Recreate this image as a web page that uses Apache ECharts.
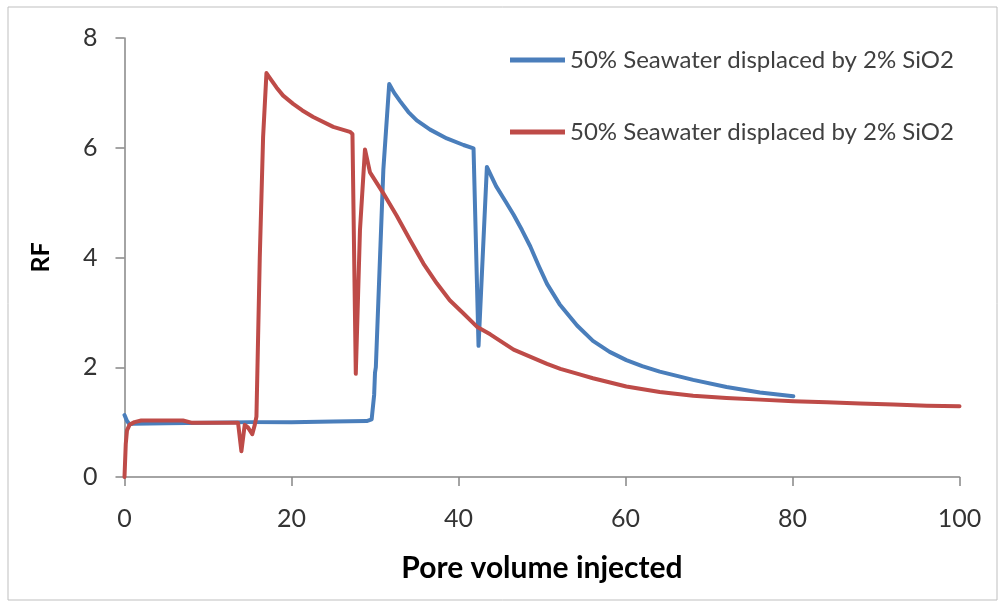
<!DOCTYPE html>
<html>
<head>
<meta charset="utf-8">
<script src="https://cdn.jsdelivr.net/npm/echarts@6/dist/echarts.min.js"></script>
<style>
  html, body { margin: 0; padding: 0; background: #fff; }
  #chart { width: 1000px; height: 603px; }
</style>
</head>
<body>
<div id="chart"></div>
<script>
// Resistance factor (RF) versus injected pore volume, two core floods
const seriesNames = [
  '50% Seawater displaced by 2% SiO2',
  '50% Seawater displaced by 2% SiO2'
];

// [pore volume injected, RF]
const blueRun = [
  [0, 1.13], [0.3, 1.02], [0.6, 0.96], [1, 0.97], [5, 0.98], [10, 0.99],
  [15, 1.0], [20, 1.0], [25, 1.01], [29, 1.02], [29.6, 1.05], [29.9, 1.5],
  [30.0, 1.9], [30.1, 2.0], [31.0, 5.6], [31.7, 7.16], [32.3, 7.0],
  [33.0, 6.85], [34.0, 6.65], [35.0, 6.5], [36.6, 6.33], [38.6, 6.17],
  [40.6, 6.05], [41.8, 5.99], [42.4, 2.39], [43.4, 5.65], [44.5, 5.3],
  [45.6, 5.03], [46.6, 4.78], [47.6, 4.5], [48.6, 4.2], [49.6, 3.85],
  [50.6, 3.52], [52.1, 3.15], [54.2, 2.76], [56.1, 2.48], [58.1, 2.28],
  [60.1, 2.13], [62, 2.02], [64.1, 1.92], [68.1, 1.77], [72.1, 1.64],
  [76.1, 1.54], [80.1, 1.47]
];

const redRun = [
  [0, 0], [0.15, 0.6], [0.3, 0.85], [0.6, 0.95], [1.2, 1.0], [2, 1.03],
  [4, 1.03], [7, 1.03], [8, 0.99], [10, 0.99], [13.6, 0.99], [14.0, 0.47],
  [14.4, 0.95], [14.8, 0.9], [15.3, 0.78], [15.6, 0.95], [15.8, 1.1],
  [16.2, 4.0], [16.6, 6.2], [17.0, 7.36], [17.5, 7.25], [18.2, 7.1],
  [19, 6.95], [20.2, 6.8], [21.3, 6.68], [22.6, 6.56], [25, 6.38],
  [27, 6.29], [27.3, 6.25], [27.7, 1.88], [28.2, 4.5], [28.8, 5.97],
  [29.4, 5.55], [31.0, 5.17], [32.6, 4.76], [34.2, 4.32], [35.8, 3.89],
  [37.4, 3.53], [38.95, 3.22], [40.6, 2.98], [42.2, 2.74], [43.8, 2.6],
  [46.6, 2.32], [50.6, 2.06], [52.2, 1.97], [54.5, 1.87], [56.1, 1.8],
  [60.1, 1.65], [64.1, 1.55], [68.1, 1.48], [72.1, 1.44], [76.1, 1.41],
  [80.1, 1.38], [84.1, 1.36], [88.1, 1.34], [92.1, 1.32], [96.1, 1.3],
  [100, 1.29]
];

const xTicks = { min: 0, max: 100, interval: 20 };
const yTicks = { min: 0, max: 8, interval: 2 };

const FONT = 'Lato, "Open Sans", sans-serif';
const axisGray = '#868686';

const chart = echarts.init(document.getElementById('chart'), null, { renderer: 'canvas' });

chart.setOption({
  backgroundColor: '#ffffff',
  animation: false,
  textStyle: { fontFamily: FONT },
  graphic: [{
    type: 'rect',
    shape: { x: 8, y: 7, width: 989, height: 593 },
    style: { fill: 'none', stroke: '#bfbfbf', lineWidth: 1 },
    silent: true
  }],
  grid: { left: 124.5, right: 40.5, top: 38, bottom: 126, containLabel: false },
  legend: {
    orient: 'vertical',
    left: 505,
    top: 43,
    itemWidth: 55,
    itemHeight: 5,
    itemGap: 48,
    icon: 'rect',
    textStyle: { fontFamily: FONT, fontSize: 24, color: '#404040' },
    data: [
      { name: 'blue', icon: 'rect' },
      { name: 'red', icon: 'rect' }
    ],
    formatter: function (n) { return n === 'blue' ? seriesNames[0] : seriesNames[1]; }
  },
  xAxis: {
    type: 'value',
    min: xTicks.min, max: xTicks.max, interval: xTicks.interval,
    name: 'Pore volume injected',
    nameLocation: 'middle',
    nameGap: 76,
    nameTextStyle: { fontFamily: FONT, fontSize: 30, fontWeight: 'bold', color: '#000' },
    axisLine: { show: true, lineStyle: { color: axisGray, width: 1.5 } },
    axisTick: { show: true, inside: false, length: 9, lineStyle: { color: axisGray, width: 1.5 } },
    axisLabel: { margin: 29, fontSize: 25, color: '#333', fontFamily: FONT },
    splitLine: { show: false }
  },
  yAxis: {
    type: 'value',
    min: yTicks.min, max: yTicks.max, interval: yTicks.interval,
    name: 'RF',
    nameLocation: 'middle',
    nameGap: 71,
    nameRotate: 90,
    nameTextStyle: { fontFamily: FONT, fontSize: 25, fontWeight: 'bold', color: '#000' },
    axisLine: { show: true, lineStyle: { color: axisGray, width: 1.5 } },
    axisTick: { show: true, inside: false, length: 9, lineStyle: { color: axisGray, width: 1.5 } },
    axisLabel: { margin: 27, fontSize: 25, color: '#333', fontFamily: FONT },
    splitLine: { show: false }
  },
  series: [
    {
      name: 'blue',
      type: 'line',
      data: blueRun,
      showSymbol: false,
      symbol: 'none',
      lineStyle: { color: '#4A7EBB', width: 4, join: 'round', cap: 'round' },
      itemStyle: { color: '#4A7EBB' },
      z: 2
    },
    {
      name: 'red',
      type: 'line',
      data: redRun,
      showSymbol: false,
      symbol: 'none',
      lineStyle: { color: '#BE4B48', width: 4, join: 'round', cap: 'round' },
      itemStyle: { color: '#BE4B48' },
      z: 3
    }
  ]
});
</script>
</body>
</html>
